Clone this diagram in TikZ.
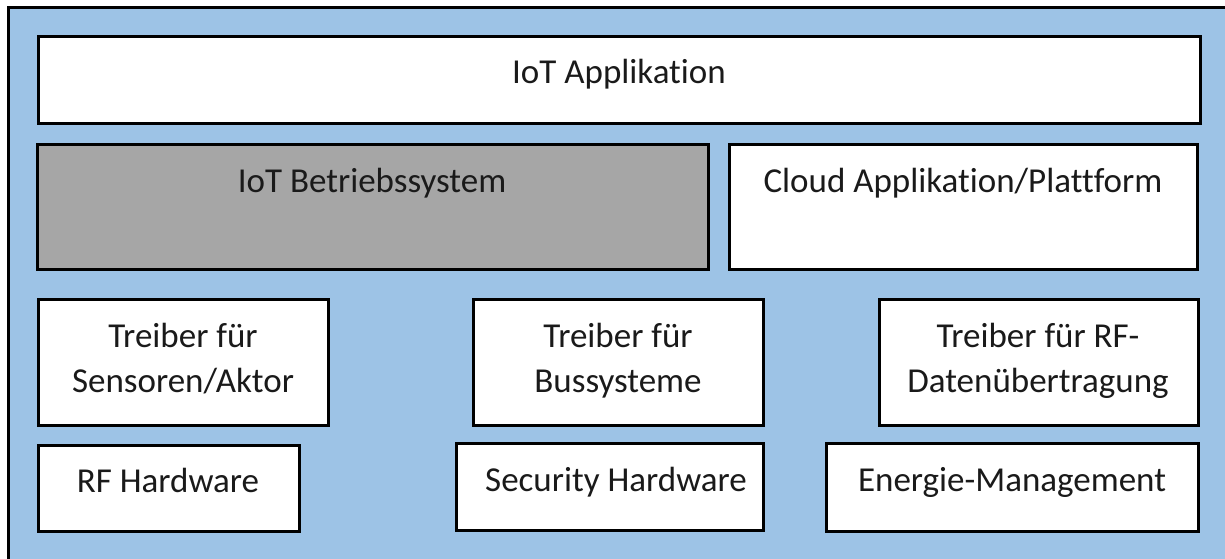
\documentclass[tikz,border=0pt]{standalone}
\usepackage{fontspec}
\setmainfont{Carlito}[Ligatures=NoCommon]
\definecolor{bgblue}{HTML}{9DC3E6}
\definecolor{osgray}{HTML}{A6A6A6}
\definecolor{ink}{HTML}{1A1A1A}
\begin{document}
\begin{tikzpicture}[x=1pt,y=-1pt,
  layer/.style={draw=black, line width=3pt, fill=white, inner sep=0pt, outer sep=0pt, anchor=north west},
  lbl/.style={font=\fontsize{35}{45}\selectfont, text=ink, align=center, inner sep=0pt, anchor=base}]
\useasboundingbox (0,0) rectangle (1225,559);
% outer frame (right and bottom edges fall outside the page)
\draw[line width=3pt, fill=bgblue] (8,8) rectangle (1260,600);

% top layer
\node[layer, minimum width=1162pt, minimum height=87pt] (app) at (38,37) {};
\node[lbl] (tapp) at (619,84) {IoT Applikation};

% operating system and cloud
\node[layer, fill=osgray, minimum width=671pt, minimum height=125pt] (os) at (37,144) {};
\node[lbl] (tos) at (372,192) {IoT Betriebssystem};
\node[layer, minimum width=468pt, minimum height=125pt] (cloud) at (729,144) {};
\node[lbl] (tcloud) at (963,192) {Cloud Applikation/Plattform};

% drivers (base anchor = baseline of the last line)
\node[layer, minimum width=290pt, minimum height=126pt] (drvsens) at (38,299) {};
\node[lbl] (tdrvsens) at (183,392) {Treiber für\\Sensoren/Aktor};
\node[layer, minimum width=290pt, minimum height=126pt] (drvbus) at (473,299) {};
\node[lbl] (tdrvbus) at (618,392) {Treiber für\\Bussysteme};
\node[layer, minimum width=319pt, minimum height=126pt] (drvrf) at (879,299) {};
\node[lbl] (tdrvrf) at (1038,392) {Treiber für RF-\\Datenübertragung};

% hardware
\node[layer, minimum width=261pt, minimum height=86pt] (rfhw) at (38,445) {};
\node[lbl] (trfhw) at (168,492) {RF Hardware};
\node[layer, minimum width=307pt, minimum height=87pt] (sechw) at (456,443) {};
\node[lbl] (tsechw) at (616,491) {Security Hardware};
\node[layer, minimum width=372pt, minimum height=88pt] (energy) at (826,443) {};
\node[lbl] (tenergy) at (1012,491) {Energie-Management};
\end{tikzpicture}
\end{document}
